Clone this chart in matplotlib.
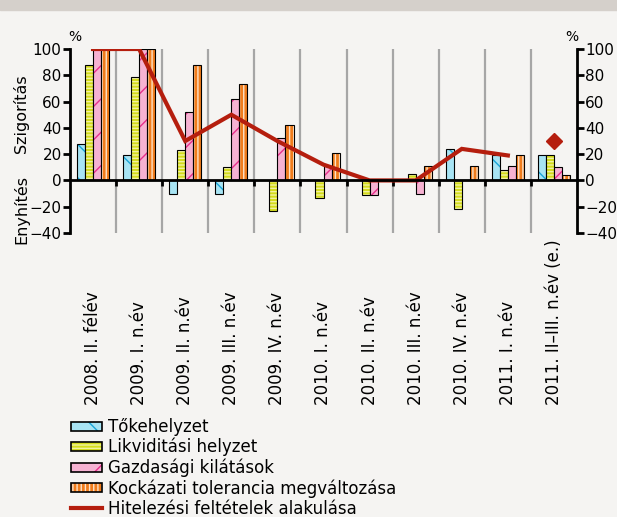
import matplotlib.pyplot as plt
import matplotlib.colors as mcolors
import numpy as np
from matplotlib.patches import Patch, Rectangle
from matplotlib.lines import Line2D
import matplotlib.transforms as mtransforms

plt.rcParams['font.family'] = 'DejaVu Sans'
plt.rcParams['hatch.linewidth'] = 1.0

categories = ['2008. II. félév', '2009. I. n.év', '2009. II. n.év', '2009. III. n.év',
              '2009. IV. n.év', '2010. I. n.év', '2010. II. n.év', '2010. III. n.év',
              '2010. IV. n.év', '2011. I. n.év', '2011. II\u2013III. n.év (e.)']

toke = [28, 19, -10, -10, 0, 0, 0, 0, 24, 19, 19]
likv = [88, 79, 23, 10, -23, -13, -11, 5, -22, 8, 19]
gazd = [100, 100, 52, 62, 32, 11, -11, -10, 0, 11, 10]
kock = [100, 100, 88, 73, 42, 21, 0, 11, 11, 19, 4]
hitel = [100, 100, 30, 50, 30, 12, 0, 0, 24, 19]
hitel_becsles = 30

series = [
    ('Tőkehelyzet', toke, '#a8e4f4', '#1aa6d8', '\\'),
    ('Likviditási helyzet', likv, '#d4dc1c', '#f2f2a0', '-----'),
    ('Gazdasági kilátások', gazd, '#f6b2d2', '#e8308c', '/'),
    ('Kockázati tolerancia megváltozása', kock, '#f07c1c', '#fde2c8', '||||'),
]


def hatch_col(p, c):
    # force hatch colour independent of the (black) outline
    try:
        p.set_hatchcolor(c)
    except AttributeError:
        p._hatch_color = mcolors.to_rgba(c)


bg = '#f5f4f2'
fig = plt.figure(figsize=(6.17, 5.17), dpi=100, facecolor=bg)
ax = fig.add_axes([70/617, 1-233/517, 507/617, 184/517], facecolor=bg)

# top banner
fig.patches.append(Rectangle((0, 1-10/517), 1, 10/517, transform=fig.transFigure,
                             color='#d5d0cb', zorder=0))

x = np.arange(len(categories))
w = 0.175
offsets = [-1.5*w, -0.5*w, 0.5*w, 1.5*w]

# grey separators
for b in np.arange(0.5, len(categories)-1, 1):
    ax.axvline(b, color='#a6a6a6', lw=1.6, zorder=1)

handles = []
for (name, vals, fc, hc, hatch), off in zip(series, offsets):
    bars = ax.bar(x+off, vals, w, facecolor=fc, edgecolor='black', hatch=hatch,
                  lw=0.8, zorder=2)
    for p in bars:
        hatch_col(p, hc)
    h = Patch(facecolor=fc, edgecolor='black', hatch=hatch, lw=1.2)
    hatch_col(h, hc)
    handles.append(h)

red = '#b51e0e'
ax.plot(x[:len(hitel)], hitel, color=red, lw=3, zorder=4, solid_joinstyle='miter')
ax.plot(x[-1], hitel_becsles, marker='D', ms=8, color=red, lw=0, zorder=4)
handles.append(Line2D([0], [0], color=red, lw=3))

ax.set_xlim(-0.5, len(categories)-0.5)
ax.set_ylim(-40, 100)
ax.set_yticks(range(-40, 101, 20))
ax.set_xticks(np.arange(0.5, len(categories)-1, 1))
ax.set_xticklabels([])
ax.spines['top'].set_visible(False)
ax.spines['bottom'].set_position(('data', 0))
for s in ['left', 'right', 'bottom']:
    ax.spines[s].set_linewidth(2)
    ax.spines[s].set_zorder(5)
ax.tick_params(axis='y', left=True, right=True, labelleft=True, labelright=True,
               direction='out', length=5, width=2, labelsize=11, pad=1)
ax.tick_params(axis='x', direction='out', length=4, width=2)

# category labels
trans = mtransforms.blended_transform_factory(ax.transData, fig.transFigure)
for xi, lab in zip(x, categories):
    ax.text(xi, 1-405/517, lab, rotation=90, ha='center', va='bottom',
            fontsize=12, transform=trans)

fig.text(75/617, 1-37/517, '%', ha='center', va='center', fontsize=10)
fig.text(572/617, 1-37/517, '%', ha='center', va='center', fontsize=10)
fig.text(21/617, 1-114/517, 'Szigorítás', rotation=90, ha='center', va='center', fontsize=11.5)
fig.text(21/617, 1-209/517, 'Enyhítés', rotation=90, ha='center', va='center', fontsize=11.5)

fig.legend(handles, [s[0] for s in series] + ['Hitelezési feltételek alakulása'],
           loc='upper left', bbox_to_anchor=(71/617, 1-418/517), frameon=False,
           fontsize=12, handlelength=1.85, handleheight=0.45, handletextpad=0.4,
           labelspacing=0.12, borderpad=0, borderaxespad=0)

fig.savefig('out.png', dpi=100, facecolor=bg)
